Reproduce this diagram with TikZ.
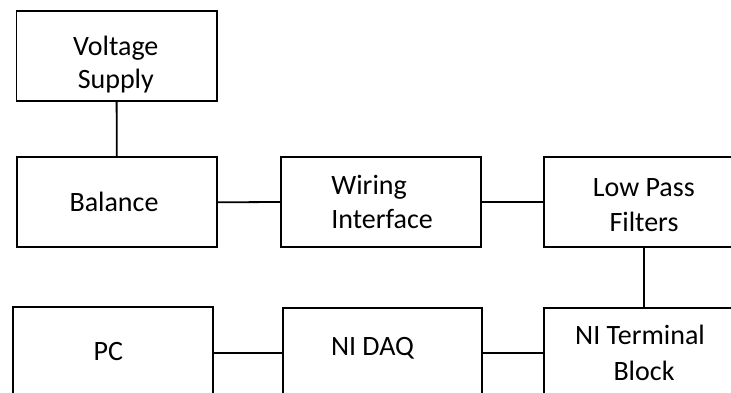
\documentclass[tikz,border=0pt]{standalone}
\usepackage{fontspec}
\setmainfont{Carlito}
\begin{document}
\begin{tikzpicture}[x=1pt,y=-1pt,
  box/.style={draw=black, line width=1.8pt, rectangle, inner sep=0pt, fill=white},
  txt/.style={inner sep=0pt, anchor=base, font=\fontsize{28}{34}\selectfont, text=black},
  link/.style={draw=black, line width=1.8pt}]
\clip (0,0) rectangle (731,393);
\fill[white] (0,0) rectangle (731,393);
% boxes
\node[box, minimum width=200.2pt, minimum height=90.3pt] (vs)   at (116.6,55.85) {};
\node[box, minimum width=199.7pt, minimum height=90pt]   (bal)  at (116.85,202.3) {};
\node[box, minimum width=200pt,   minimum height=90.6pt] (wir)  at (380.7,202) {};
\node[box, minimum width=200pt,   minimum height=90.6pt] (lpf)  at (644,202) {};
\node[box, minimum width=199.4pt, minimum height=98pt]   (pc)   at (113,355.7) {};
\node[box, minimum width=199pt,   minimum height=98pt]   (daq)  at (382.2,357.3) {};
\node[box, minimum width=200pt,   minimum height=98pt]   (term) at (644,357.3) {};
% connectors
\draw[link] (vs.south) -- (bal.north);
\draw[link] (bal.east) -- (wir.west);
\draw[link] (wir.east) -- (lpf.west);
\draw[link] (lpf.south) -- (term.north);
\draw[link] (pc.east |- 0,352.7) -- (daq.west |- 0,352.7);
\draw[link] (daq.east |- 0,353) -- (term.west |- 0,353);
% texts
\node[txt] (vs1) at (115.8,55.7) {Voltage};
\node[txt] (vs2) at (115.8,89) {Supply};
\node[txt] (bal1) at (114,211.7) {Balance};
\node[txt, anchor=base west] (wir1) at (331.2,194.3) {Wiring};
\node[txt, anchor=base west] (wir2) at (331.2,228.3) {Interface};
\node[txt] (lpf1) at (643.8,196.7) {Low Pass};
\node[txt] (lpf2) at (644,231) {Filters};
\node[txt] (pc1) at (108.3,360.7) {PC};
\node[txt] (daq1) at (372.5,355) {NI DAQ};
\node[txt] (term1) at (640,344.3) {NI Terminal};
\node[txt] (term2) at (644,380) {Block};
\end{tikzpicture}
\end{document}
